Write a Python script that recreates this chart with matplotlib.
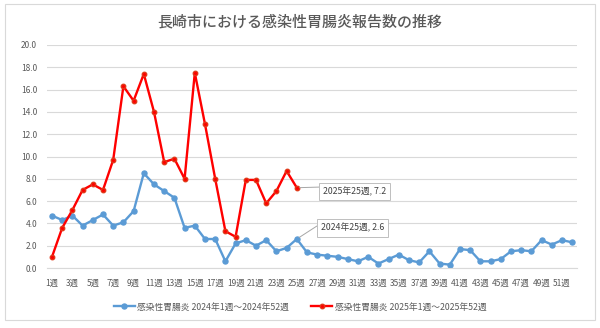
import matplotlib

matplotlib.use("Agg")
import matplotlib.pyplot as plt
from matplotlib.patches import Rectangle

plt.rcParams["font.family"] = ["Noto Sans CJK JP", "DejaVu Sans"]

TITLE = "長崎市における感染性胃腸炎報告数の推移"
WEEKS = [f"{w}週" for w in range(1, 53)]

# 定点当たり報告数
CASES_2024 = [
    4.7, 4.3, 4.7, 3.8, 4.3, 4.8, 3.8, 4.1, 5.1, 8.5,
    7.5, 6.9, 6.3, 3.6, 3.8, 2.6, 2.6, 0.6, 2.2, 2.5,
    2.0, 2.5, 1.5, 1.8, 2.6, 1.4, 1.2, 1.1, 1.0, 0.8,
    0.6, 1.0, 0.4, 0.8, 1.2, 0.7, 0.5, 1.5, 0.4, 0.3,
    1.7, 1.6, 0.6, 0.6, 0.8, 1.5, 1.6, 1.5, 2.5, 2.1,
    2.5, 2.3,
]
CASES_2025 = [
    1.0, 3.6, 5.2, 7.0, 7.5, 7.0, 9.7, 16.3, 15.0, 17.4,
    14.0, 9.5, 9.8, 8.0, 17.5, 12.9, 8.0, 3.3, 2.8, 7.9,
    7.9, 5.8, 6.9, 8.7, 7.2,
]
LABEL_2024 = "感染性胃腸炎 2024年1週～2024年52週"
LABEL_2025 = "感染性胃腸炎 2025年1週～2025年52週"

BLUE = "#5b9bd5"
RED = "#ff0000"
TEXT = "#595959"
GRID = "#d9d9d9"

W, H = 600, 328
fig = plt.figure(figsize=(W / 100, H / 100), dpi=100)

# chart frame
fig.patches.append(
    Rectangle((5 / W, 1 - 320 / H), 590 / W, 316 / H, transform=fig.transFigure,
              fill=False, edgecolor=GRID, linewidth=0.8)
)

ax = fig.add_axes([46.9 / W, 60 / H, 530.4 / W, 223 / H])

x24 = list(range(len(CASES_2024)))
x25 = list(range(len(CASES_2025)))
line24, = ax.plot(x24, CASES_2024, color=BLUE, linewidth=1.7, marker="o",
                  markersize=3.6, label=LABEL_2024)
line25, = ax.plot(x25, CASES_2025, color=RED, linewidth=1.7, marker="o",
                  markersize=3.2, markeredgecolor="#e03a1a", label=LABEL_2025)

ax.set_xlim(-0.5, len(WEEKS) - 0.5)
ax.set_ylim(0, 20)
ax.set_yticks([i * 2 for i in range(11)])
ax.set_yticklabels([f"{i * 2:.1f}" for i in range(11)])
ax.set_xticks(range(0, len(WEEKS), 2))
ax.set_xticklabels(WEEKS[::2])
ax.tick_params(axis="y", length=0, pad=7, labelsize=6, labelcolor=TEXT)
ax.tick_params(axis="x", length=0, pad=8, labelsize=6, labelcolor=TEXT)

ax.grid(axis="y", color=GRID, linewidth=0.8)
ax.set_axisbelow(True)
for side in ("top", "right", "left"):
    ax.spines[side].set_visible(False)
ax.spines["bottom"].set_color(GRID)
ax.spines["bottom"].set_linewidth(0.8)

# data callouts for week 25
box = dict(boxstyle="square,pad=0.45", facecolor="white", edgecolor="#bfbfbf", linewidth=0.7)
arrow = dict(arrowstyle="-", color="#a6a6a6", linewidth=0.7, shrinkA=0, shrinkB=2)
i = 24
ax.annotate(f"2025年{i + 1}週, {CASES_2025[i]}", (i, CASES_2025[i]),
            xytext=(58, -4), textcoords="offset pixels", ha="center", va="center",
            fontsize=6.3, color="#404040", bbox=box,
            arrowprops=dict(arrow, relpos=(0, 1)))
ax.annotate(f"2024年{i + 1}週, {CASES_2024[i]}", (i, CASES_2024[i]),
            xytext=(56, 11), textcoords="offset pixels", ha="center", va="center",
            fontsize=6.3, color="#404040", bbox=box,
            arrowprops=dict(arrow, relpos=(0, 1)))

fig.text(0.5, 1 - 22 / H, TITLE, ha="center", va="center", fontsize=10.8,
         fontweight="medium", color=TEXT)

fig.legend(handles=[line24, line25], loc="center", bbox_to_anchor=(0.5, 1 - 307 / H),
           ncol=2, frameon=False, fontsize=6.3, labelcolor=TEXT, handlelength=2.4,
           handletextpad=0.3, columnspacing=2.5)

fig.savefig("out.png", dpi=100)
